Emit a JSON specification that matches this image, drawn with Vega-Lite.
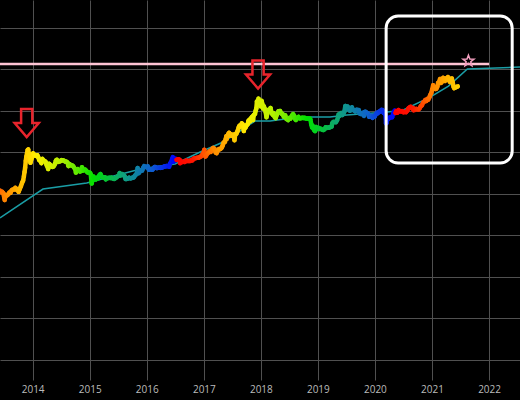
{
  "$schema": "https://vega.github.io/schema/vega-lite/v6.json",
  "width": 520,
  "height": 380,
  "autosize": {"type": "none"},
  "padding": {"left": 0, "right": 0, "top": 0, "bottom": 20},
  "background": "#000000",
  "config": {"view": {"stroke": null}, "font": "Open Sans"},
  "datasets": {
    "btc": [
      {"date":"2013-06-06","price":118},{"date":"2013-06-12","price":108},{"date":"2013-06-20","price":110},{"date":"2013-06-27","price":102},
      {"date":"2013-07-03","price":80},{"date":"2013-07-06","price":70},{"date":"2013-07-12","price":92},{"date":"2013-07-20","price":90},{"date":"2013-07-28","price":95},
      {"date":"2013-08-05","price":105},{"date":"2013-08-12","price":104},{"date":"2013-08-20","price":120},{"date":"2013-08-28","price":125},
      {"date":"2013-09-05","price":125},{"date":"2013-09-12","price":137},{"date":"2013-09-20","price":124},{"date":"2013-09-28","price":128},
      {"date":"2013-10-03","price":110},{"date":"2013-10-10","price":128},{"date":"2013-10-18","price":150},{"date":"2013-10-25","price":180},
      {"date":"2013-11-01","price":205},{"date":"2013-11-06","price":260},{"date":"2013-11-10","price":330},{"date":"2013-11-14","price":420},{"date":"2013-11-18","price":610},{"date":"2013-11-22","price":780},{"date":"2013-11-26","price":920},{"date":"2013-11-30","price":1120},
      {"date":"2013-12-04","price":1150},{"date":"2013-12-08","price":820},{"date":"2013-12-12","price":900},{"date":"2013-12-18","price":550},{"date":"2013-12-22","price":640},{"date":"2013-12-28","price":740},
      {"date":"2014-01-04","price":930},{"date":"2014-01-10","price":860},{"date":"2014-01-16","price":830},{"date":"2014-01-24","price":810},{"date":"2014-01-31","price":830},
      {"date":"2014-02-06","price":750},{"date":"2014-02-12","price":640},{"date":"2014-02-20","price":610},{"date":"2014-02-26","price":540},
      {"date":"2014-03-04","price":680},{"date":"2014-03-10","price":630},{"date":"2014-03-18","price":610},{"date":"2014-03-25","price":580},
      {"date":"2014-04-01","price":480},{"date":"2014-04-06","price":450},{"date":"2014-04-10","price":390},{"date":"2014-04-16","price":520},{"date":"2014-04-23","price":490},{"date":"2014-04-30","price":450},
      {"date":"2014-05-08","price":440},{"date":"2014-05-15","price":450},{"date":"2014-05-22","price":500},{"date":"2014-05-30","price":620},
      {"date":"2014-06-05","price":650},{"date":"2014-06-12","price":580},{"date":"2014-06-20","price":595},{"date":"2014-06-27","price":600},
      {"date":"2014-07-04","price":635},{"date":"2014-07-12","price":630},{"date":"2014-07-20","price":620},{"date":"2014-07-28","price":590},
      {"date":"2014-08-05","price":585},{"date":"2014-08-12","price":560},{"date":"2014-08-18","price":460},{"date":"2014-08-26","price":510},
      {"date":"2014-09-03","price":480},{"date":"2014-09-10","price":475},{"date":"2014-09-17","price":455},{"date":"2014-09-23","price":420},
      {"date":"2014-10-01","price":385},{"date":"2014-10-05","price":320},{"date":"2014-10-10","price":365},{"date":"2014-10-17","price":385},{"date":"2014-10-24","price":355},{"date":"2014-10-31","price":340},
      {"date":"2014-11-07","price":350},{"date":"2014-11-13","price":430},{"date":"2014-11-20","price":360},{"date":"2014-11-27","price":370},
      {"date":"2014-12-04","price":375},{"date":"2014-12-11","price":350},{"date":"2014-12-18","price":325},{"date":"2014-12-26","price":320},
      {"date":"2015-01-03","price":315},{"date":"2015-01-08","price":290},{"date":"2015-01-14","price":175},{"date":"2015-01-18","price":205},{"date":"2015-01-26","price":255},
      {"date":"2015-02-02","price":230},{"date":"2015-02-10","price":220},{"date":"2015-02-18","price":240},{"date":"2015-02-25","price":235},
      {"date":"2015-03-04","price":275},{"date":"2015-03-11","price":295},{"date":"2015-03-18","price":260},{"date":"2015-03-25","price":245},
      {"date":"2015-04-01","price":245},{"date":"2015-04-08","price":245},{"date":"2015-04-14","price":220},{"date":"2015-04-22","price":235},{"date":"2015-04-30","price":235},
      {"date":"2015-05-08","price":240},{"date":"2015-05-15","price":237},{"date":"2015-05-22","price":240},{"date":"2015-05-30","price":230},
      {"date":"2015-06-07","price":225},{"date":"2015-06-15","price":235},{"date":"2015-06-22","price":245},{"date":"2015-06-30","price":260},
      {"date":"2015-07-08","price":270},{"date":"2015-07-12","price":310},{"date":"2015-07-20","price":275},{"date":"2015-07-28","price":295},
      {"date":"2015-08-05","price":280},{"date":"2015-08-12","price":265},{"date":"2015-08-19","price":225},{"date":"2015-08-26","price":225},
      {"date":"2015-09-03","price":230},{"date":"2015-09-10","price":240},{"date":"2015-09-18","price":232},{"date":"2015-09-25","price":235},
      {"date":"2015-10-03","price":240},{"date":"2015-10-10","price":245},{"date":"2015-10-18","price":270},{"date":"2015-10-26","price":290},
      {"date":"2015-11-01","price":325},{"date":"2015-11-04","price":410},{"date":"2015-11-11","price":310},{"date":"2015-11-18","price":335},{"date":"2015-11-26","price":360},
      {"date":"2015-12-03","price":360},{"date":"2015-12-10","price":420},{"date":"2015-12-16","price":455},{"date":"2015-12-24","price":440},
      {"date":"2016-01-01","price":430},{"date":"2016-01-08","price":450},{"date":"2016-01-15","price":375},{"date":"2016-01-22","price":385},{"date":"2016-01-30","price":378},
      {"date":"2016-02-07","price":375},{"date":"2016-02-14","price":405},{"date":"2016-02-21","price":435},{"date":"2016-02-28","price":432},
      {"date":"2016-03-06","price":410},{"date":"2016-03-14","price":415},{"date":"2016-03-22","price":415},{"date":"2016-03-30","price":415},
      {"date":"2016-04-07","price":420},{"date":"2016-04-15","price":430},{"date":"2016-04-23","price":450},{"date":"2016-04-30","price":450},
      {"date":"2016-05-08","price":460},{"date":"2016-05-16","price":455},{"date":"2016-05-24","price":445},{"date":"2016-05-30","price":530},
      {"date":"2016-06-06","price":575},{"date":"2016-06-12","price":680},{"date":"2016-06-17","price":750},{"date":"2016-06-22","price":590},{"date":"2016-06-28","price":660},
      {"date":"2016-07-04","price":680},{"date":"2016-07-09","price":650},{"date":"2016-07-14","price":660},{"date":"2016-07-22","price":665},{"date":"2016-07-30","price":650},
      {"date":"2016-08-02","price":540},{"date":"2016-08-08","price":590},{"date":"2016-08-16","price":575},{"date":"2016-08-24","price":580},
      {"date":"2016-09-01","price":575},{"date":"2016-09-10","price":620},{"date":"2016-09-18","price":610},{"date":"2016-09-26","price":605},
      {"date":"2016-10-04","price":610},{"date":"2016-10-12","price":640},{"date":"2016-10-20","price":630},{"date":"2016-10-28","price":690},
      {"date":"2016-11-04","price":705},{"date":"2016-11-12","price":715},{"date":"2016-11-20","price":730},{"date":"2016-11-28","price":730},
      {"date":"2016-12-06","price":760},{"date":"2016-12-14","price":780},{"date":"2016-12-22","price":860},{"date":"2016-12-30","price":960},
      {"date":"2017-01-04","price":1130},{"date":"2017-01-07","price":900},{"date":"2017-01-11","price":780},{"date":"2017-01-16","price":830},{"date":"2017-01-24","price":920},
      {"date":"2017-02-01","price":985},{"date":"2017-02-08","price":1050},{"date":"2017-02-15","price":1010},{"date":"2017-02-23","price":1180},
      {"date":"2017-03-02","price":1250},{"date":"2017-03-10","price":1200},{"date":"2017-03-18","price":970},{"date":"2017-03-24","price":940},{"date":"2017-03-31","price":1080},
      {"date":"2017-04-08","price":1180},{"date":"2017-04-16","price":1180},{"date":"2017-04-24","price":1250},
      {"date":"2017-05-01","price":1420},{"date":"2017-05-08","price":1700},{"date":"2017-05-16","price":1750},{"date":"2017-05-20","price":2000},{"date":"2017-05-25","price":2400},{"date":"2017-05-27","price":2050},
      {"date":"2017-06-01","price":2450},{"date":"2017-06-06","price":2700},{"date":"2017-06-12","price":2900},{"date":"2017-06-16","price":2480},{"date":"2017-06-22","price":2700},{"date":"2017-06-30","price":2500},
      {"date":"2017-07-06","price":2600},{"date":"2017-07-12","price":2350},{"date":"2017-07-16","price":1930},{"date":"2017-07-21","price":2700},{"date":"2017-07-28","price":2750},
      {"date":"2017-08-05","price":3200},{"date":"2017-08-12","price":3900},{"date":"2017-08-17","price":4300},{"date":"2017-08-22","price":4050},{"date":"2017-08-28","price":4350},
      {"date":"2017-09-01","price":4900},{"date":"2017-09-08","price":4600},{"date":"2017-09-14","price":3200},{"date":"2017-09-18","price":4100},{"date":"2017-09-25","price":3900},
      {"date":"2017-10-02","price":4400},{"date":"2017-10-10","price":4800},{"date":"2017-10-13","price":5600},{"date":"2017-10-20","price":6000},{"date":"2017-10-25","price":5500},
      {"date":"2017-11-01","price":6700},{"date":"2017-11-07","price":7100},{"date":"2017-11-12","price":5900},{"date":"2017-11-17","price":7800},{"date":"2017-11-24","price":8200},{"date":"2017-11-29","price":9900},
      {"date":"2017-12-03","price":11200},{"date":"2017-12-07","price":16500},{"date":"2017-12-10","price":15000},{"date":"2017-12-17","price":19300},{"date":"2017-12-22","price":13800},{"date":"2017-12-27","price":15700},{"date":"2017-12-30","price":12600},
      {"date":"2018-01-06","price":17100},{"date":"2018-01-10","price":14500},{"date":"2018-01-16","price":11200},{"date":"2018-01-20","price":12700},{"date":"2018-01-26","price":11000},
      {"date":"2018-02-01","price":9100},{"date":"2018-02-06","price":6900},{"date":"2018-02-10","price":8100},{"date":"2018-02-16","price":10200},{"date":"2018-02-22","price":9800},
      {"date":"2018-03-04","price":11500},{"date":"2018-03-10","price":8800},{"date":"2018-03-18","price":7900},{"date":"2018-03-24","price":8600},{"date":"2018-03-31","price":6900},
      {"date":"2018-04-06","price":6600},{"date":"2018-04-14","price":8000},{"date":"2018-04-24","price":9600},
      {"date":"2018-05-04","price":9700},{"date":"2018-05-12","price":8500},{"date":"2018-05-20","price":8200},{"date":"2018-05-28","price":7100},
      {"date":"2018-06-06","price":7650},{"date":"2018-06-13","price":6300},{"date":"2018-06-24","price":5900},
      {"date":"2018-07-02","price":6600},{"date":"2018-07-10","price":6400},{"date":"2018-07-18","price":7400},{"date":"2018-07-26","price":8200},
      {"date":"2018-08-03","price":7400},{"date":"2018-08-10","price":6100},{"date":"2018-08-14","price":5950},{"date":"2018-08-22","price":6600},{"date":"2018-08-30","price":7000},
      {"date":"2018-09-06","price":6500},{"date":"2018-09-14","price":6500},{"date":"2018-09-22","price":6700},{"date":"2018-09-30","price":6600},
      {"date":"2018-10-08","price":6650},{"date":"2018-10-16","price":6450},{"date":"2018-10-24","price":6450},
      {"date":"2018-11-01","price":6350},{"date":"2018-11-10","price":6400},{"date":"2018-11-14","price":6100},{"date":"2018-11-20","price":4600},{"date":"2018-11-25","price":3900},{"date":"2018-11-29","price":4250},
      {"date":"2018-12-07","price":3400},{"date":"2018-12-14","price":3200},{"date":"2018-12-20","price":4000},{"date":"2018-12-27","price":3600},
      {"date":"2019-01-04","price":3800},{"date":"2019-01-10","price":3600},{"date":"2019-01-18","price":3650},{"date":"2019-01-28","price":3450},
      {"date":"2019-02-07","price":3400},{"date":"2019-02-14","price":3600},{"date":"2019-02-20","price":3950},{"date":"2019-02-27","price":3820},
      {"date":"2019-03-06","price":3880},{"date":"2019-03-14","price":3880},{"date":"2019-03-22","price":4000},{"date":"2019-03-30","price":4100},
      {"date":"2019-04-03","price":4950},{"date":"2019-04-10","price":5300},{"date":"2019-04-18","price":5300},{"date":"2019-04-26","price":5250},
      {"date":"2019-05-04","price":5800},{"date":"2019-05-11","price":7200},{"date":"2019-05-14","price":8000},{"date":"2019-05-17","price":7300},{"date":"2019-05-24","price":8000},{"date":"2019-05-30","price":8700},
      {"date":"2019-06-06","price":7800},{"date":"2019-06-13","price":8200},{"date":"2019-06-20","price":9500},{"date":"2019-06-26","price":12900},{"date":"2019-06-30","price":10800},
      {"date":"2019-07-06","price":11200},{"date":"2019-07-10","price":12500},{"date":"2019-07-16","price":10900},{"date":"2019-07-19","price":10500},{"date":"2019-07-25","price":9900},
      {"date":"2019-08-01","price":10400},{"date":"2019-08-07","price":11900},{"date":"2019-08-14","price":10300},{"date":"2019-08-22","price":10100},{"date":"2019-08-29","price":9500},
      {"date":"2019-09-06","price":10400},{"date":"2019-09-14","price":10300},{"date":"2019-09-20","price":10200},{"date":"2019-09-25","price":8500},
      {"date":"2019-10-03","price":8300},{"date":"2019-10-10","price":8600},{"date":"2019-10-18","price":7950},{"date":"2019-10-23","price":7450},{"date":"2019-10-26","price":9250},
      {"date":"2019-11-02","price":9300},{"date":"2019-11-10","price":8800},{"date":"2019-11-18","price":8500},{"date":"2019-11-25","price":7100},
      {"date":"2019-12-01","price":7400},{"date":"2019-12-09","price":7400},{"date":"2019-12-17","price":6650},{"date":"2019-12-24","price":7300},{"date":"2019-12-31","price":7200},
      {"date":"2020-01-07","price":8100},{"date":"2020-01-14","price":8800},{"date":"2020-01-20","price":8650},{"date":"2020-01-28","price":9400},
      {"date":"2020-02-05","price":9600},{"date":"2020-02-12","price":10300},{"date":"2020-02-19","price":10200},{"date":"2020-02-26","price":8800},
      {"date":"2020-03-05","price":9050},{"date":"2020-03-09","price":8000},{"date":"2020-03-12","price":4900},{"date":"2020-03-16","price":5000},{"date":"2020-03-20","price":6200},{"date":"2020-03-28","price":6300},
      {"date":"2020-04-05","price":6800},{"date":"2020-04-12","price":6900},{"date":"2020-04-20","price":6900},{"date":"2020-04-29","price":8800},
      {"date":"2020-05-07","price":9900},{"date":"2020-05-11","price":8700},{"date":"2020-05-17","price":9700},{"date":"2020-05-25","price":8900},
      {"date":"2020-06-01","price":10200},{"date":"2020-06-08","price":9700},{"date":"2020-06-16","price":9500},{"date":"2020-06-24","price":9600},
      {"date":"2020-07-02","price":9100},{"date":"2020-07-10","price":9250},{"date":"2020-07-18","price":9150},{"date":"2020-07-26","price":9900},
      {"date":"2020-08-02","price":11100},{"date":"2020-08-10","price":11900},{"date":"2020-08-17","price":12300},{"date":"2020-08-25","price":11400},
      {"date":"2020-09-02","price":11400},{"date":"2020-09-05","price":10200},{"date":"2020-09-12","price":10400},{"date":"2020-09-20","price":10900},{"date":"2020-09-28","price":10700},
      {"date":"2020-10-06","price":10600},{"date":"2020-10-14","price":11400},{"date":"2020-10-21","price":12800},{"date":"2020-10-28","price":13300},
      {"date":"2020-11-05","price":15600},{"date":"2020-11-12","price":16300},{"date":"2020-11-18","price":17800},{"date":"2020-11-26","price":17100},
      {"date":"2020-12-01","price":18800},{"date":"2020-12-08","price":18300},{"date":"2020-12-16","price":21300},{"date":"2020-12-20","price":23500},{"date":"2020-12-27","price":26300},
      {"date":"2021-01-02","price":32200},{"date":"2021-01-08","price":40600},{"date":"2021-01-12","price":33800},{"date":"2021-01-17","price":36000},{"date":"2021-01-22","price":33000},{"date":"2021-01-28","price":33400},
      {"date":"2021-02-04","price":37600},{"date":"2021-02-09","price":46500},{"date":"2021-02-15","price":47900},{"date":"2021-02-21","price":57500},{"date":"2021-02-26","price":46300},
      {"date":"2021-03-04","price":48300},{"date":"2021-03-10","price":56000},{"date":"2021-03-13","price":61200},{"date":"2021-03-19","price":58000},{"date":"2021-03-25","price":51700},{"date":"2021-03-31","price":58800},
      {"date":"2021-04-07","price":56000},{"date":"2021-04-13","price":63500},{"date":"2021-04-18","price":56200},{"date":"2021-04-25","price":49000},
      {"date":"2021-05-01","price":57800},{"date":"2021-05-08","price":58800},{"date":"2021-05-12","price":49500},{"date":"2021-05-19","price":37000},{"date":"2021-05-23","price":34700},{"date":"2021-05-29","price":35700},
      {"date":"2021-06-04","price":36800},{"date":"2021-06-10","price":37300},{"date":"2021-06-15","price":38000}
    ],
    "floor": [
      {"date":"2013-06-06","value":25.7},{"date":"2014-03-08","value":128},{"date":"2014-12-13","value":179},
      {"date":"2015-11-17","value":385},{"date":"2016-01-01","value":410},{"date":"2016-07-01","value":514},
      {"date":"2016-12-09","value":1000},{"date":"2017-05-05","value":1741},{"date":"2017-11-24","value":5580},
      {"date":"2018-03-01","value":5600},{"date":"2018-09-08","value":6970},{"date":"2019-03-20","value":6970},
      {"date":"2019-07-05","value":7800},{"date":"2020-03-21","value":9200},{"date":"2020-07-01","value":10300},
      {"date":"2020-12-20","value":21100},{"date":"2021-04-16","value":38900},{"date":"2021-08-15","value":100000},
      {"date":"2022-07-18","value":111700}
    ],
    "target": [{"start":"2013-06-06","end":"2022-01-01","value":132000}],
    "peaks": [{"date":"2013-11-24","value":5000},{"date":"2017-12-14","value":73600}],
    "star": [{"date":"2021-08-22","value":156000}],
    "box": [{"start":"2020-03-13","end":"2022-05-29","low":543,"high":1890000}]
  },
  "layer": [
    {
      "data": {"name": "floor"},
      "mark": {"type": "line", "color": "#1a9ea6", "strokeWidth": 1.5, "clip": true},
      "encoding": {
        "x": {
          "field": "date", "type": "temporal",
          "scale": {"domain": [{"year": 2013, "month": 6, "date": 6}, {"year": 2022, "month": 7, "date": 18}], "nice": false},
          "axis": {
            "title": null, "grid": true, "gridColor": "#505050", "gridWidth": 1,
            "domain": false, "ticks": false, "format": "%Y",
            "labelColor": "#bbbbbb", "labelFontSize": 10, "labelPadding": 4, "labelFont": "Open Sans",
            "values": [
              {"year": 2014, "month": 1, "date": 1}, {"year": 2015, "month": 1, "date": 1},
              {"year": 2016, "month": 1, "date": 1}, {"year": 2017, "month": 1, "date": 1},
              {"year": 2018, "month": 1, "date": 1}, {"year": 2019, "month": 1, "date": 1},
              {"year": 2020, "month": 1, "date": 1}, {"year": 2021, "month": 1, "date": 1},
              {"year": 2022, "month": 1, "date": 1}
            ]
          }
        },
        "y": {
          "field": "value", "type": "quantitative",
          "scale": {"type": "log", "domain": [0.00321, 4600000], "nice": false},
          "axis": {
            "title": null, "grid": true, "gridColor": "#505050", "gridWidth": 1,
            "domain": false, "ticks": false, "labels": false,
            "values": [0.01, 0.1, 1, 10, 100, 1000, 10000, 100000, 1000000]
          }
        }
      }
    },
    {
      "data": {"name": "target"},
      "mark": {"type": "rule", "color": "#ffc4d4", "strokeWidth": 2.5},
      "encoding": {
        "x": {"field": "start", "type": "temporal"},
        "x2": {"field": "end"},
        "y": {"field": "value", "type": "quantitative"}
      }
    },
    {
      "data": {"name": "btc", "format": {"parse": {"date": "date"}}},
      "transform": [
        {"window": [{"op": "lead", "field": "date", "as": "date2"}, {"op": "lead", "field": "price", "as": "price2"}], "sort": [{"field": "date"}]},
        {"filter": "datum.price2 != null"}
      ],
      "mark": {"type": "rule", "strokeWidth": 4.5, "strokeCap": "round", "clip": true},
      "encoding": {
        "x": {"field": "date", "type": "temporal"},
        "x2": {"field": "date2"},
        "y": {"field": "price", "type": "quantitative"},
        "y2": {"field": "price2"},
        "color": {
          "field": "date", "type": "quantitative", "legend": null,
          "scale": {
            "type": "linear",
            "nice": false,
            "zero": false,
            "interpolate": "rgb",
            "domain": [
              1354060800000, 1363219200000, 1373414400000, 1390521600000, 1405382400000, 1422403200000,
              1439510400000, 1454371200000, 1467936000000,
              1468022400000, 1477699200000, 1488585600000, 1506816000000, 1522540800000, 1540684800000,
              1558915200000, 1574640000000, 1589068800000,
              1589155200000, 1599091200000, 1610323200000, 1628985600000, 1645142400000
            ],
            "range": [
              "#ff0000", "#ff1800", "#ff8800", "#ffee00", "#b0f000", "#00e000", "#10a080", "#1060d0", "#0000ff",
              "#ff0000", "#ff1800", "#ff8800", "#ffee00", "#b0f000", "#00e000", "#10a080", "#1060d0", "#0000ff",
              "#ff0000", "#ff1800", "#ff8800", "#ffee00", "#b0f000"
            ]
          }
        }
      }
    },
    {
      "data": {"name": "peaks"},
      "mark": {"type": "point", "shape": "M-0.4,-1L0.4,-1L0.4,0L0.86,0L0,1L-0.86,0L-0.4,0Z", "size": 784, "filled": false, "color": "#e8242c", "strokeWidth": 2.5, "opacity": 1},
      "encoding": {
        "x": {"field": "date", "type": "temporal"},
        "y": {"field": "value", "type": "quantitative"}
      }
    },
    {
      "data": {"name": "star"},
      "mark": {"type": "point", "shape": "M0,-1L0.247,-0.34L0.951,-0.309L0.399,0.13L0.588,0.809L0,0.42L-0.588,0.809L-0.399,0.13L-0.951,-0.309L-0.247,-0.34Z", "size": 135, "filled": false, "color": "#f5a0c0", "strokeWidth": 1.5, "opacity": 1},
      "encoding": {
        "x": {"field": "date", "type": "temporal"},
        "y": {"field": "value", "type": "quantitative"}
      }
    },
    {
      "data": {"name": "box"},
      "mark": {"type": "rect", "filled": false, "color": "#ffffff", "strokeWidth": 3, "cornerRadius": 12},
      "encoding": {
        "x": {"field": "start", "type": "temporal"},
        "x2": {"field": "end"},
        "y": {"field": "high", "type": "quantitative"},
        "y2": {"field": "low"}
      }
    }
  ]
}
